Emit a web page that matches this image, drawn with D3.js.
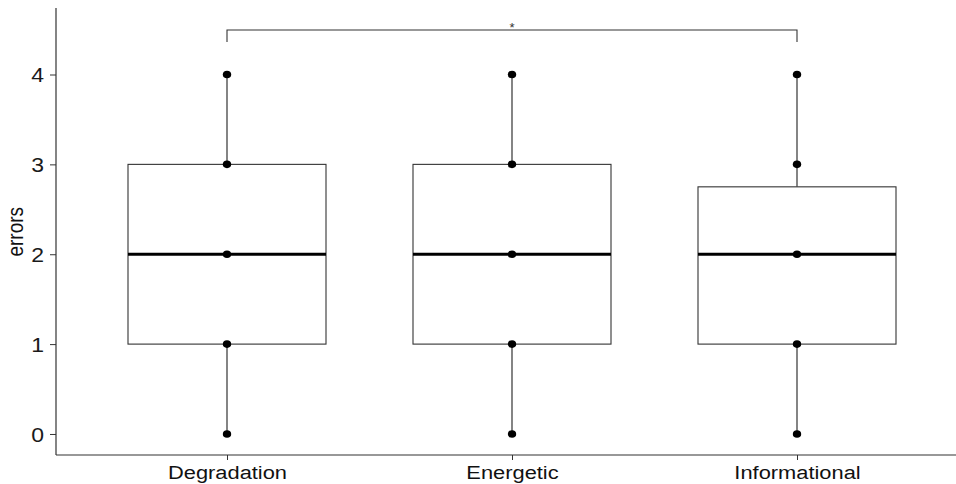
<!DOCTYPE html>
<html><head><meta charset="utf-8">
<script src="https://cdn.jsdelivr.net/npm/d3@7"></script>
<style>body{margin:0;background:#fff}svg{display:block}</style>
</head><body><svg id="c" width="956" height="484"></svg>
<script>
const categories = ["Degradation", "Energetic", "Informational"];
const mins = [0, 0, 0];
const q1s = [1, 1, 1];
const medians = [2, 2, 2];
const q3s = [3, 3, 2.75];
const maxs = [4, 4, 4];
const pointValues = [[0,1,2,3,4],[0,1,2,3,4],[0,1,2,3,4]];
const yTicks = [0, 1, 2, 3, 4];
const sigLabel = "*";

(function(){
const svg = d3.select("#c");
const mLeft = 56, mBottom = 455, mTop = 8;
const y = d3.scaleLinear().domain([-0.234, 4.74]).range([mBottom, mTop]);
const step = 285;
const x = d3.scalePoint().domain(categories).range([mLeft + 0.6*step, mLeft + 2.6*step]);
const boxW = 198;
const ink = "#333";
const font = "Liberation Sans, Arial, sans-serif";
const sx = 1.15;

const yAxis = svg.append("g").attr("transform", `translate(${mLeft},0)`)
  .call(d3.axisLeft(y).tickValues(yTicks).tickSize(6).tickPadding(6).tickFormat(d3.format("d")));
yAxis.select(".domain").attr("d", `M0,${mTop}V${mBottom}`).attr("stroke", ink).attr("stroke-width", 1.2);
yAxis.selectAll(".tick line").attr("stroke", ink);
yAxis.selectAll(".tick text").attr("fill", "#1a1a1a").attr("font-size", 20).attr("font-family", font)
  .attr("x", -12 / sx).attr("transform", `scale(${sx},1)`).attr("dy", "0.36em");

const xAxis = svg.append("g").attr("transform", `translate(0,${mBottom})`)
  .call(d3.axisBottom(x).tickSize(5).tickPadding(6));
xAxis.select(".domain").attr("d", `M${mLeft},0H956`).attr("stroke", ink).attr("stroke-width", 1.2);
xAxis.selectAll(".tick line").attr("stroke", ink);
xAxis.selectAll(".tick text").attr("fill", "#111").attr("font-size", 19).attr("font-family", font)
  .attr("y", 24).attr("dy", 0).attr("transform", `scale(${sx},1)`);

svg.append("text").attr("transform", `translate(23,${y(2.25)}) rotate(-90) scale(1,${sx})`)
  .attr("text-anchor", "middle").attr("font-size", 19).attr("fill", "#111")
  .attr("font-family", font).text("errors");

const g = svg.append("g");
categories.forEach((c, i) => {
  const cx = x(c);
  g.append("line").attr("x1", cx).attr("x2", cx).attr("y1", y(q3s[i])).attr("y2", y(maxs[i])).attr("stroke", ink).attr("stroke-width", 1.2);
  g.append("line").attr("x1", cx).attr("x2", cx).attr("y1", y(q1s[i])).attr("y2", y(mins[i])).attr("stroke", ink).attr("stroke-width", 1.2);
  g.append("rect").attr("x", cx - boxW/2).attr("width", boxW).attr("y", y(q3s[i])).attr("height", y(q1s[i]) - y(q3s[i]))
    .attr("fill", "#fff").attr("stroke", ink).attr("stroke-width", 1.1);
  g.append("line").attr("x1", cx - boxW/2).attr("x2", cx + boxW/2).attr("y1", y(medians[i])).attr("y2", y(medians[i])).attr("stroke", "#000").attr("stroke-width", 3);
  pointValues[i].forEach(v => {
    g.append("ellipse").attr("cx", cx).attr("cy", y(v)).attr("rx", 4.2).attr("ry", 3.8).attr("fill", "#000");
  });
});

const by = 30, tk = 12;
const x1 = x(categories[0]), x2 = x(categories[2]);
svg.append("path").attr("d", `M${x1},${by+tk}V${by}H${x2}V${by+tk}`)
  .attr("fill", "none").attr("stroke", ink).attr("stroke-width", 1.1);
svg.append("text").attr("x", (x1+x2)/2).attr("y", by + 2).attr("text-anchor", "middle")
  .attr("font-size", 13).attr("fill", "#333").attr("font-family", font).text(sigLabel);
})();
</script></body></html>
